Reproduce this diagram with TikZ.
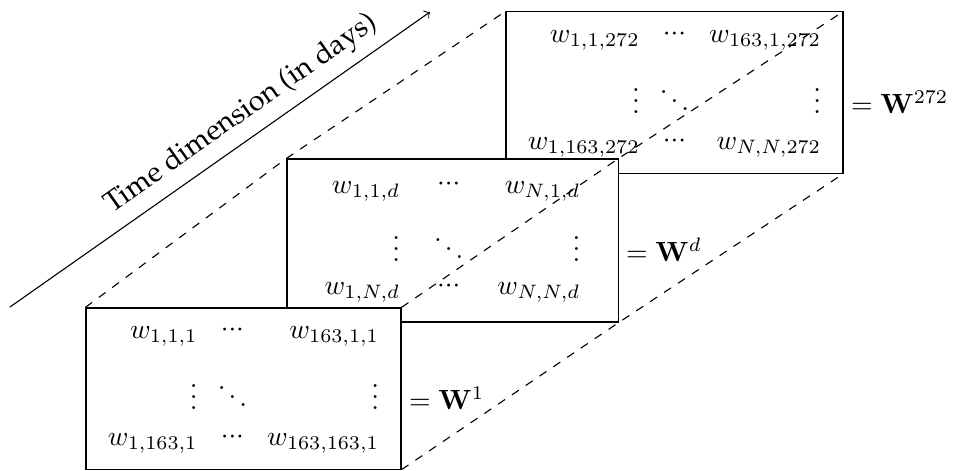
\documentclass[tikz,border=0pt]{standalone}
\usepackage{amsmath}
\usepackage[T1,TU]{fontenc}
\usetikzlibrary{matrix,positioning}
\newcommand{\rowdots}{\raisebox{0.8pt}{${\cdot}{\cdot}{\cdot}$}}

\begin{document}
\begin{tikzpicture}[x=0.36pt,y=0.36pt,
box/.style={rectangle,draw,fill=white,inner sep=0pt},
wmat/.style={matrix of math nodes,
column 1/.style={nodes={anchor=base east}},
column 2/.style={nodes={anchor=base}},
column 3/.style={nodes={anchor=base east}},
row sep=1pt,column sep=0pt},
wlabel/.style={anchor=base west,inner xsep=2.5pt}]

\useasboundingbox (0,0) rectangle (953,470);

% slice 272 (back)
\node[box,minimum width=121.3pt,minimum height=58pt] (B272) at (674.5,377.5) {};
\matrix (M272) [wmat] at (B272.center) {
w_{1,1,272} & \rowdots & w_{163,1,272} \\
\vdots & \ddots & \vdots \\
w_{1,163,272} & \rowdots & w_{N,N,272} \\
};
\node[wlabel] (L272) at (B272.east |- M272-2-3.base) {$=\mathbf{W}^{272}$};

% slice d
\node[box,minimum width=119.2pt,minimum height=58.7pt] (Bd) at (452.5,229.5) {};
\matrix (Md) [wmat,column sep=5pt,row sep=0pt] at (Bd.center) {
w_{1,1,d} & \rowdots & w_{N,1,d} \\
\vdots & \ddots & \vdots \\
w_{1,N,d} & \rowdots & w_{N,N,d} \\
};
\node[wlabel] (Ld) at (Bd.east |- Md-2-3.base) {$=\mathbf{W}^{d}$};

% slice 1 (front)
\node[box,minimum width=113.4pt,minimum height=58pt] (B1) at (243.5,81.5) {};
\matrix (M1) [wmat] at (B1.center) {
w_{1,1,1} & \rowdots & w_{163,1,1} \\
\vdots & \ddots & \vdots \\
w_{1,163,1} & \rowdots & w_{163,163,1} \\
};
\node[wlabel] (L1) at (B1.east |- M1-2-3.base) {$=\mathbf{W}^{1}$};

% depth lines
\draw[dashed] (B1.north west) -- (Bd.north west) -- (B272.north west);
\draw[dashed] (B1.north east) -- (Bd.north east) -- (B272.north east);
\draw[dashed] (B1.south east) -- (Bd.south east) -- (B272.south east);

% time axis
\coordinate (T0) at (10,163);
\coordinate (T1) at (430,458);
\draw[->] (T0) -- (T1) node[pos=0.585,above,sloped,font=\fontencoding{T1}\fontfamily{ppl}\fontsize{10.4}{12}\selectfont] (time) {Time dimension (in days)};
\end{tikzpicture}
\end{document}
